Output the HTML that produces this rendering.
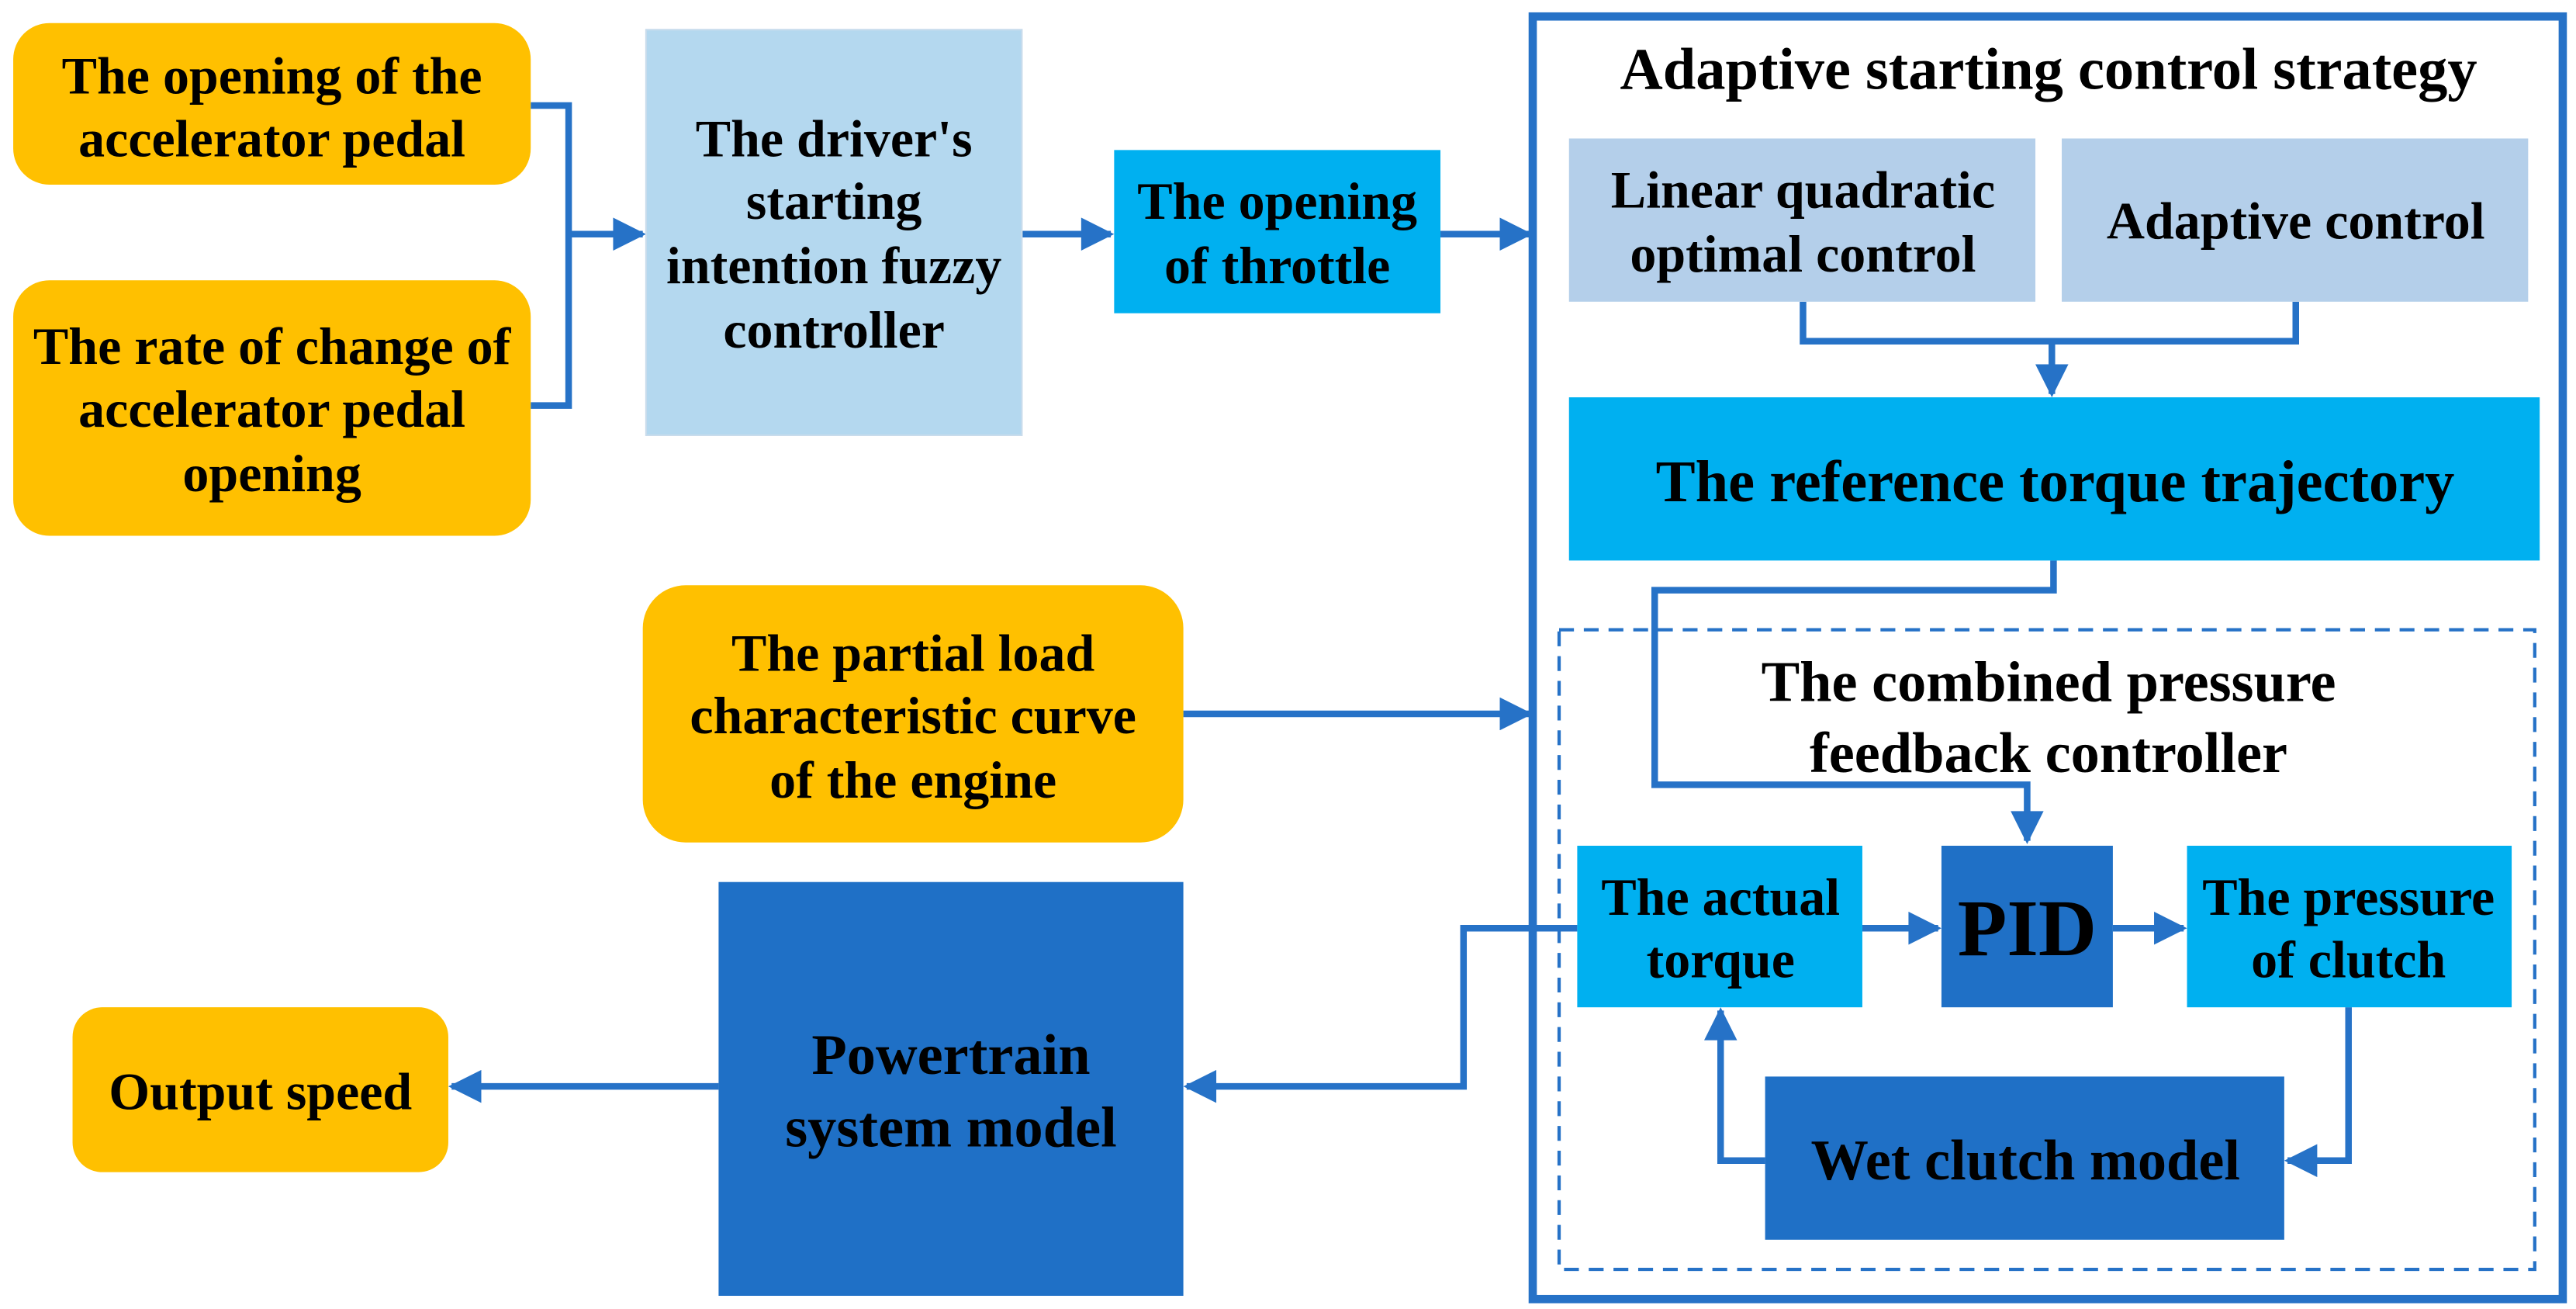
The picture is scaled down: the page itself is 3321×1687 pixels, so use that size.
<!DOCTYPE html>
<html><head><meta charset="utf-8"><style>
html,body{margin:0;padding:0;background:#fff;}
svg{display:block;}
text{font-family:"Liberation Serif",serif;font-weight:bold;fill:#000;text-anchor:middle;dominant-baseline:central;}
</style></head><body>
<svg width="3321" height="1687" viewBox="0 0 1563 794" xmlns="http://www.w3.org/2000/svg">
<defs>
<marker id="ar" viewBox="0 0 10 10" refX="9" refY="5" markerWidth="22" markerHeight="20" markerUnits="userSpaceOnUse" orient="auto">
<path d="M0,0 L10,5 L0,10 z" fill="#2672c7"/>
</marker>
</defs>
<g fill="none" stroke="#2672c7" stroke-width="4">
<polyline points="322,64 345,64 345,246 322,246"/>
<line x1="345" y1="142" x2="390" y2="142" marker-end="url(#ar)"/>
<line x1="620" y1="142" x2="674" y2="142" marker-end="url(#ar)"/>
<line x1="874" y1="142" x2="928" y2="142" marker-end="url(#ar)"/>
<polyline points="1094,183 1094,207 1393,207 1393,183"/>
<line x1="1245" y1="207" x2="1245" y2="239" marker-end="url(#ar)"/>
<polyline points="1246,340 1246,358 1004,358 1004,476 1230,476 1230,510" marker-end="url(#ar)"/>
<line x1="718" y1="433" x2="928" y2="433" marker-end="url(#ar)"/>
<line x1="1130" y1="563" x2="1176" y2="563" marker-end="url(#ar)"/>
<line x1="1282" y1="563" x2="1325" y2="563" marker-end="url(#ar)"/>
<polyline points="1425,611 1425,704 1388,704" marker-end="url(#ar)"/>
<polyline points="1071,704 1044,704 1044,613" marker-end="url(#ar)"/>
<polyline points="957,563 888,563 888,659 720,659" marker-end="url(#ar)"/>
<line x1="436" y1="659" x2="274" y2="659" marker-end="url(#ar)"/>
</g>
<rect x="930" y="10" width="625" height="778" fill="none" stroke="#2672c7" stroke-width="5"/>
<rect x="946" y="382" width="592" height="388" fill="none" stroke="#2672c7" stroke-width="2" stroke-dasharray="9,6"/>
<rect x="8" y="14" width="314" height="98" rx="22" fill="#ffc000"/>
<rect x="8" y="170" width="314" height="155" rx="22" fill="#ffc000"/>
<rect x="392" y="18" width="228" height="246" fill="#b4d8ef" stroke="#c8dcec" stroke-width="1"/>
<rect x="676" y="91" width="198" height="99" fill="#00b0f0"/>
<rect x="952" y="84" width="283" height="99" fill="#b4cfea"/>
<rect x="1251" y="84" width="283" height="99" fill="#b4cfea"/>
<rect x="952" y="241" width="589" height="99" fill="#00b0f0"/>
<rect x="390" y="355" width="328" height="156" rx="26" fill="#ffc000"/>
<rect x="957" y="513" width="173" height="98" fill="#00b0f0"/>
<rect x="1178" y="513" width="104" height="98" fill="#1f70c6"/>
<rect x="1327" y="513" width="197" height="98" fill="#00b0f0"/>
<rect x="1071" y="653" width="315" height="99" fill="#1f70c6"/>
<rect x="436" y="535" width="282" height="251" fill="#1f70c6"/>
<rect x="44" y="611" width="228" height="100" rx="18" fill="#ffc000"/>
<g font-size="32">
<text x="165" y="46">The opening of the</text>
<text x="165" y="84">accelerator pedal</text>
<text x="165" y="210">The rate of change of</text>
<text x="165" y="248">accelerator pedal</text>
<text x="165" y="287">opening</text>
<text x="506" y="84">The driver's</text>
<text x="506" y="122">starting</text>
<text x="506" y="161">intention fuzzy</text>
<text x="506" y="200">controller</text>
<text x="775" y="122">The opening</text>
<text x="775" y="161">of throttle</text>
<text x="1243" y="42" font-size="36">Adaptive starting control strategy</text>
<text x="1094" y="115">Linear quadratic</text>
<text x="1094" y="154">optimal control</text>
<text x="1393" y="134">Adaptive control</text>
<text x="1247" y="292" font-size="36">The reference torque trajectory</text>
<text x="1243" y="414" font-size="35">The combined pressure</text>
<text x="1243" y="457" font-size="35">feedback controller</text>
<text x="554" y="396">The partial load</text>
<text x="554" y="434">characteristic curve</text>
<text x="554" y="473">of the engine</text>
<text x="1044" y="544">The actual</text>
<text x="1044" y="582">torque</text>
<text x="1230" y="563" font-size="49">PID</text>
<text x="1425" y="544">The pressure</text>
<text x="1425" y="582">of clutch</text>
<text x="1229" y="704" font-size="35">Wet clutch model</text>
<text x="577" y="640" font-size="35">Powertrain</text>
<text x="577" y="684" font-size="35">system model</text>
<text x="158" y="662">Output speed</text>
</g>
</svg>
</body></html>
